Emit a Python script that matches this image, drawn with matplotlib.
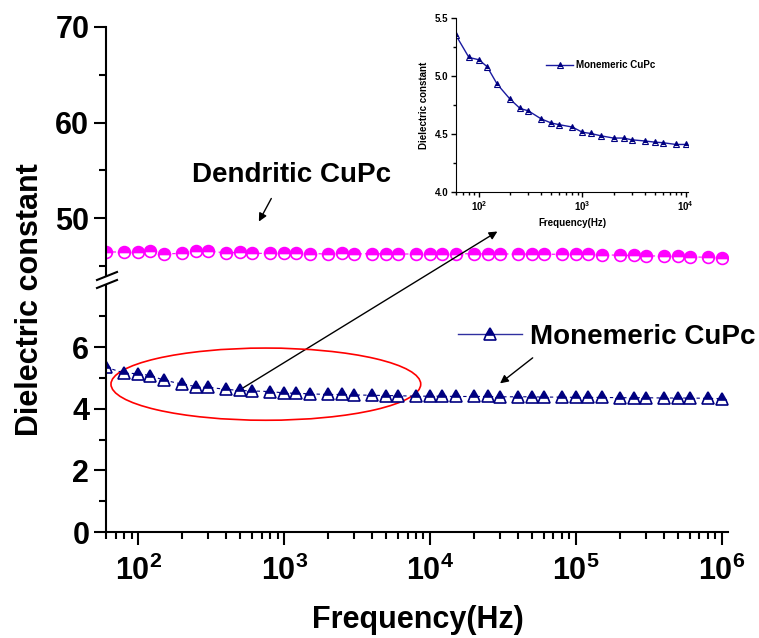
import math

import matplotlib
matplotlib.use('Agg')
import matplotlib.pyplot as plt
from matplotlib.lines import Line2D
from matplotlib.patches import Ellipse
from matplotlib.ticker import FixedLocator, FuncFormatter, LogLocator, NullFormatter

plt.rcParams['font.family'] = ['Liberation Sans', 'DejaVu Sans']
plt.rcParams['font.weight'] = 'bold'
plt.rcParams['axes.labelweight'] = 'bold'
plt.rcParams['mathtext.fontset'] = 'custom'
plt.rcParams['mathtext.bf'] = 'Liberation Sans:bold'
plt.rcParams['mathtext.rm'] = 'Liberation Sans:bold'

# --- datos ---
freq = [60, 80, 100, 120, 150, 200, 250, 300, 400, 500, 600, 800,
        1e3, 1.2e3, 1.5e3, 2e3, 2.5e3, 3e3, 4e3, 5e3, 6e3, 8e3,
        1e4, 1.2e4, 1.5e4, 2e4, 2.5e4, 3e4, 4e4, 5e4, 6e4, 8e4,
        1e5, 1.2e5, 1.5e5, 2e5, 2.5e5, 3e5, 4e5, 5e5, 6e5, 8e5, 1e6]

dendritic = [46.47, 46.41, 46.47, 46.57, 46.23, 46.30, 46.57, 46.52, 46.36, 46.41, 46.30, 46.30,
             46.30, 46.30, 46.28, 46.23, 46.30, 46.23, 46.28, 46.23, 46.23, 46.23,
             46.28, 46.27, 46.26, 46.25, 46.25, 46.24, 46.23, 46.22, 46.21, 46.20,
             46.20, 46.18, 46.15, 46.10, 46.08, 46.05, 46.00, 45.97, 45.94, 45.88, 45.85]

monomeric = [5.35, 5.16, 5.14, 5.08, 4.93, 4.80, 4.72, 4.70, 4.63, 4.595, 4.58, 4.56,
             4.515, 4.505, 4.485, 4.465, 4.465, 4.45, 4.44, 4.43, 4.425, 4.41,
             4.41, 4.41, 4.40, 4.40, 4.40, 4.39, 4.39, 4.39, 4.38, 4.38,
             4.37, 4.37, 4.37, 4.36, 4.36, 4.36, 4.35, 4.35, 4.35, 4.34, 4.33]

inset_freq = freq[:23]
inset_mono = monomeric[:23]

MAGENTA = '#FF00FF'
NAVY = '#000080'
W, H = 759, 638


def rect(left, top, right, bottom):
    # pixeles (origen arriba-izquierda) -> fraccion de figura
    return [left / W, 1 - bottom / H, (right - left) / W, (bottom - top) / H]


dec_fmt = FuncFormatter(lambda v, p: r'$\mathbf{10^{%d}}$' % round(math.log10(v)))
arrow = dict(arrowstyle='-|>', color='black', lw=1.0, mutation_scale=12)

fig = plt.figure(figsize=(W / 100, H / 100), dpi=100)
ax_up = fig.add_axes(rect(106, 27, 728, 275.3))
ax_low = fig.add_axes(rect(106, 285.6, 728, 532))

for ax in (ax_up, ax_low):
    ax.set_xscale('log')
    ax.set_xlim(60, 1.1e6)
    for s in ('top', 'right'):
        ax.spines[s].set_visible(False)
    ax.spines['left'].set_linewidth(1.5)
    ax.spines['bottom'].set_linewidth(1.5)
    ax.tick_params(which='major', direction='out', length=9, width=1.5, labelsize=22, pad=3)
    ax.tick_params(which='minor', direction='out', length=5, width=1.5)
    ax.patch.set_alpha(0)

# eje superior (dendritico)
ax_up.set_ylim(44, 70)
ax_up.spines['bottom'].set_visible(False)
ax_up.tick_params(axis='x', which='both', bottom=False, labelbottom=False)
ax_up.yaxis.set_major_locator(FixedLocator([50, 60, 70]))
ax_up.yaxis.set_minor_locator(FixedLocator([45, 55, 65]))
ax_up.plot(freq, dendritic, linestyle=(0, (3, 3)), color=MAGENTA, lw=0.8,
           marker='o', markersize=8.5, fillstyle='top', markerfacecolor=MAGENTA,
           markerfacecoloralt='white', markeredgecolor=MAGENTA, markeredgewidth=1.2)

# eje inferior (monomerico)
ax_low.set_ylim(0, 8)
ax_low.yaxis.set_major_locator(FixedLocator([0, 2, 4, 6]))
ax_low.yaxis.set_minor_locator(FixedLocator([1, 3, 5, 7]))
ax_low.xaxis.set_major_locator(LogLocator(base=10, numticks=10))
ax_low.xaxis.set_minor_locator(LogLocator(base=10, subs=range(2, 10), numticks=20))
ax_low.xaxis.set_major_formatter(dec_fmt)
ax_low.xaxis.set_minor_formatter(NullFormatter())
ax_low.tick_params(axis='x', which='major', pad=8)
ax_low.plot(freq, monomeric, linestyle=(0, (3, 3)), color=NAVY, lw=0.8,
            marker='^', markersize=9, fillstyle='top', markerfacecolor=NAVY,
            markerfacecoloralt='white', markeredgecolor=NAVY, markeredgewidth=1.2)

proxy = Line2D([], [], color='#3030a0', lw=1.0, marker='^', markersize=9,
               fillstyle='top', markerfacecolor=NAVY, markerfacecoloralt='white',
               markeredgecolor=NAVY, markeredgewidth=1.2)
ax_low.legend([proxy], ['Monemeric CuPc'], loc='center left', bbox_to_anchor=(0.566, 0.793),
              frameon=False, fontsize=20, handlelength=2.3, handletextpad=0.3,
              borderpad=0, borderaxespad=0, numpoints=1)

# elipse roja
ax_low.add_patch(Ellipse((0.257, 0.60), 0.498, 0.293, transform=ax_low.transAxes,
                         fill=False, edgecolor='red', lw=1.2, clip_on=False))

# flechas y textos
ax_up.annotate('', xy=(656, 49.37), xytext=(832, 52.3), arrowprops=arrow)
fig.text(292 / W, 1 - 175 / H, 'Dendritic CuPc', fontsize=20, ha='center', va='center')
ax_low.annotate('', xy=(29100, 4.77), xytext=(52200, 5.71), arrowprops=arrow)
ax_up.annotate('', xy=(30000, 48.74), xycoords=ax_up.transData,
               xytext=(471, 4.55), textcoords=ax_low.transData,
               arrowprops=arrow, annotation_clip=False)

# marcas de corte en el eje y
for y0 in (280, 288):
    fig.add_artist(Line2D([97 / W, 117 / W], [1 - y0 / H, 1 - (y0 - 8) / H],
                          color='black', lw=1.5))

fig.text(30 / W, 1 - 300 / H, 'Dielectric constant', fontsize=22, rotation=90,
         ha='center', va='center')
fig.text(418 / W, 1 - 620 / H, 'Frequency(Hz)', fontsize=22, ha='center', va='center')

# recuadro (inset)
ax_in = fig.add_axes(rect(456, 18, 688, 192))
ax_in.set_xscale('log')
ax_in.set_xlim(60, 10500)
ax_in.set_ylim(4.0, 5.5)
for s in ('top', 'right'):
    ax_in.spines[s].set_visible(False)
ax_in.patch.set_alpha(0)
ax_in.yaxis.set_major_locator(FixedLocator([4.0, 4.5, 5.0, 5.5]))
ax_in.yaxis.set_minor_locator(FixedLocator([4.25, 4.75, 5.25]))
ax_in.yaxis.set_major_formatter(FuncFormatter(lambda v, p: '%.1f' % v))
ax_in.xaxis.set_major_locator(LogLocator(base=10, numticks=10))
ax_in.xaxis.set_minor_locator(LogLocator(base=10, subs=range(2, 10), numticks=20))
ax_in.xaxis.set_major_formatter(dec_fmt)
ax_in.xaxis.set_minor_formatter(NullFormatter())
ax_in.tick_params(which='major', direction='out', length=3.5, width=1, labelsize=7, pad=2)
ax_in.tick_params(which='minor', direction='out', length=2, width=1)
ax_in.plot(inset_freq, inset_mono, color='#1a1aa0', lw=1.0,
           marker='^', markersize=5, fillstyle='top', markerfacecolor=NAVY,
           markerfacecoloralt='white', markeredgecolor=NAVY, markeredgewidth=0.8)
ax_in.set_xlabel('Frequency(Hz)', fontsize=7, labelpad=3)
ax_in.set_ylabel('Dielectric constant', fontsize=7, labelpad=4)
proxy_in = Line2D([], [], color='#1a1aa0', lw=1.0, marker='^', markersize=5,
                  fillstyle='top', markerfacecolor=NAVY, markerfacecoloralt='white',
                  markeredgecolor=NAVY, markeredgewidth=0.8)
ax_in.legend([proxy_in], ['Monemeric CuPc'], loc='center left', bbox_to_anchor=(0.388, 0.73),
             frameon=False, fontsize=7, handlelength=2.8, handletextpad=0.3,
             borderpad=0, borderaxespad=0, numpoints=1)

fig.savefig('out.png', dpi=100, facecolor='white')
